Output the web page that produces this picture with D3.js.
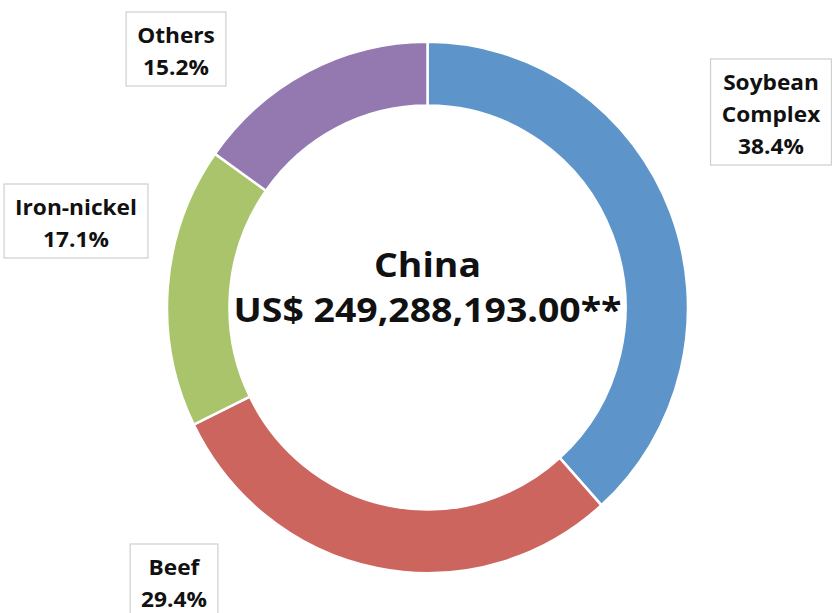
<!DOCTYPE html>
<html lang="en">
<head>
    <meta charset="UTF-8">
    <title>China exports donut</title>
    <script src="https://d3js.org/d3.v7.min.js"></script>
    <style>
        body { margin: 0; background: #fff; font-family: "Open Sans", Arial, sans-serif; }
        svg { display: block; }
        .lbl { font-weight: 700; fill: #111; text-anchor: middle; }
        .box { fill: #fff; stroke: #cfcfcf; stroke-width: 1.2px; }
    </style>
</head>
<body>
<svg id="chart" width="832" height="613"></svg>
<script>
    // data
    const categories = ["Soybean Complex", "Beef", "Iron-nickel", "Others"];
    const shares = [38.4, 29.4, 17.1, 15.2];
    const labelLines = [["Soybean", "Complex", "38.4%"], ["Beef", "29.4%"], ["Iron-nickel", "17.1%"], ["Others", "15.2%"]];
    const colors = ["#5d95ca", "#cd655f", "#a9c46a", "#9379b0"];
    const centerTitle = ["China", "US$ 249,288,193.00**"];

    // where the label boxes sit (box centre x, first baseline y)
    const labelAt = [[771, 90], [174, 575], [76, 215], [176, 43]];

    const width = 832, height = 613;
    const cx = 427.5, cy = 307.5;
    const outerR = 260.5, innerR = 198;

    const svg = d3.select("#chart");
    const ring = svg.append("g").attr("transform", `translate(${cx},${cy}) scale(1,1.02)`);

    const data = categories.map((c, i) => ({ name: c, value: shares[i], color: colors[i] }));
    const pie = d3.pie().value(d => d.value).sort(null);
    const arc = d3.arc().innerRadius(innerR).outerRadius(outerR);

    ring.selectAll("path")
        .data(pie(data))
        .join("path")
        .attr("d", arc)
        .attr("fill", d => d.data.color)
        .attr("stroke", "#fff")
        .attr("stroke-width", 2.5);

    // centre text (calibri-ish: a bit narrower font, so stretch sideways)
    svg.append("g")
        .attr("transform", `translate(${cx},0) scale(1.1,1)`)
        .selectAll("text")
        .data(centerTitle)
        .join("text")
        .attr("class", "lbl")
        .attr("x", 0)
        .attr("y", (d, i) => 277 + i * 45)
        .style("font-size", "34px")
        .text(d => d);

    // label boxes
    const lineH = 32;
    labelLines.forEach((lines, i) => {
        const [x, y0] = labelAt[i];
        const g = svg.append("g");
        const box = g.append("rect").attr("class", "box");
        const tg = g.append("g").attr("transform", `translate(${x},0) scale(1.08,1)`);
        tg.selectAll("text")
            .data(lines)
            .join("text")
            .attr("class", "lbl")
            .attr("x", 0)
            .attr("y", (d, j) => y0 + j * lineH)
            .style("font-size", "21px")
            .text(d => d);
        const w = tg.node().getBBox().width * 1.08;
        const top = y0 - 31, bottom = y0 + (lines.length - 1) * lineH + 11;
        box.attr("x", x - w / 2 - 11).attr("y", top)
            .attr("width", w + 22).attr("height", bottom - top);
    });
</script>
</body>
</html>
